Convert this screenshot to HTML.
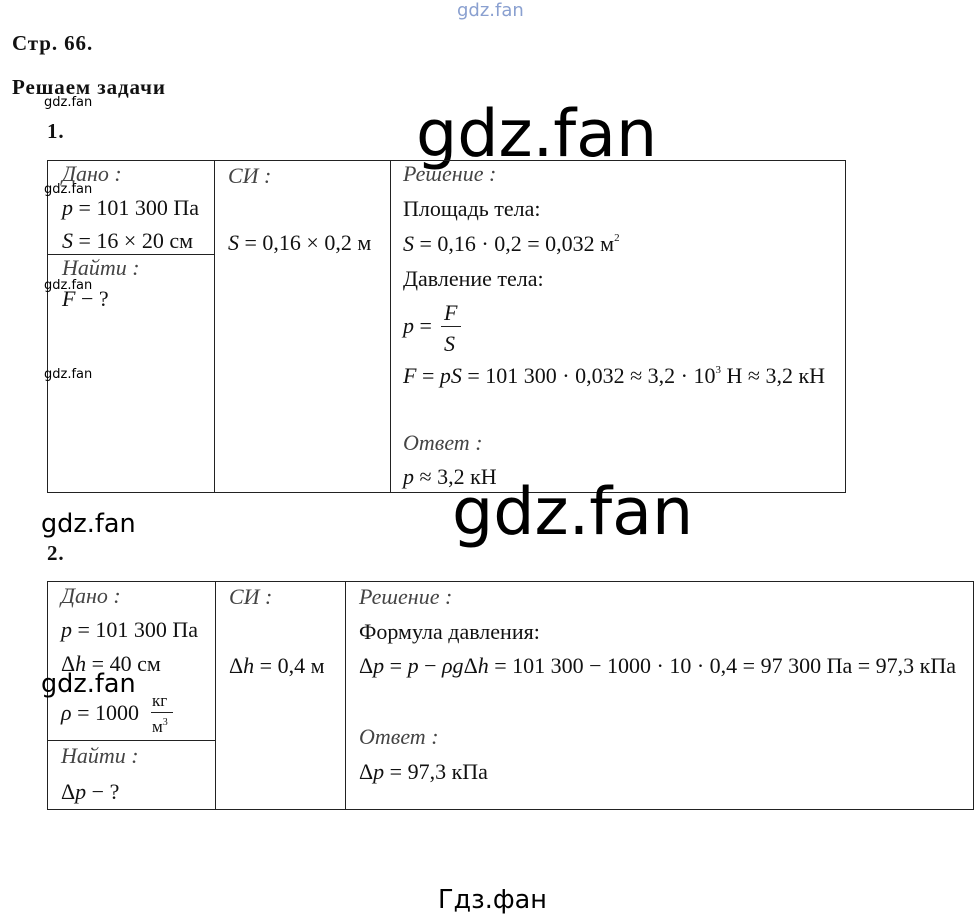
<!DOCTYPE html>
<html><head><meta charset="utf-8"><style>
body{margin:0;width:979px;height:921px;background:#fff;position:relative;overflow:hidden;font-family:"Liberation Serif",serif;color:#111}
.t{position:absolute;white-space:nowrap;font-size:22px;line-height:1}
.i{font-style:italic}
.b{font-weight:bold;font-size:21px;letter-spacing:0.9px}
.l{position:absolute;background:#222}
.w{position:absolute;font-family:"DejaVu Sans","Liberation Sans",sans-serif;white-space:nowrap;color:#000;line-height:1}
sup{font-size:11px;vertical-align:10px}
</style></head><body>
<div class="w" style="left:457px;top:2px;font-size:18px;color:#8aa0d0">gdz.fan</div>
<div class="t b" style="left:12px;top:33px">Стр. 66.</div>
<div class="t b" style="left:12px;top:77px">Решаем задачи</div>
<div class="w" style="left:44px;top:96px;font-size:13px">gdz.fan</div>
<div class="t b" style="left:47px;top:121px">1.</div>
<div class="w" style="left:416px;top:102px;font-size:65px">gdz.fan</div>

<!-- table 1 -->
<div class="l" style="left:47px;top:160px;width:799px;height:1px"></div>
<div class="l" style="left:47px;top:492px;width:799px;height:1px"></div>
<div class="l" style="left:47px;top:160px;width:1px;height:333px"></div>
<div class="l" style="left:845px;top:160px;width:1px;height:333px"></div>
<div class="l" style="left:214px;top:160px;width:1px;height:333px"></div>
<div class="l" style="left:390px;top:160px;width:1px;height:333px"></div>
<div class="l" style="left:47px;top:254px;width:167px;height:1px"></div>
<div class="t i" style="left:62px;top:163px;color:#444">Дано :</div>
<div class="t" style="left:62px;top:197px"><i>p</i> = 101 300 Па</div>
<div class="t" style="left:62px;top:230px"><i>S</i> = 16 × 20 см</div>
<div class="t i" style="left:62px;top:257px;color:#444">Найти :</div>
<div class="t" style="left:62px;top:288px"><i>F</i> − ?</div>
<div class="w" style="left:44px;top:183px;font-size:13px">gdz.fan</div>
<div class="w" style="left:44px;top:279px;font-size:13px">gdz.fan</div>
<div class="w" style="left:44px;top:368px;font-size:13px">gdz.fan</div>
<div class="t i" style="left:228px;top:165px;color:#444">СИ :</div>
<div class="t" style="left:228px;top:232px"><i>S</i> = 0,16 × 0,2 м</div>
<div class="t i" style="left:403px;top:163px;color:#444">Решение :</div>
<div class="t" style="left:403px;top:198px">Площадь тела:</div>
<div class="t" style="left:403px;top:233px"><i>S</i> = 0,16 · 0,2 = 0,032 м<sup>2</sup></div>
<div class="t" style="left:403px;top:268px">Давление тела:</div>
<div class="t" style="left:403px;top:315px"><i>p</i> =</div>
<div class="t i" style="left:444px;top:302px">F</div>
<div class="l" style="left:441px;top:326px;width:20px;height:1px"></div>
<div class="t i" style="left:444px;top:333px">S</div>
<div class="t" style="left:403px;top:365px"><i>F</i> = <i>pS</i> = 101 300 · 0,032 ≈ 3,2 · 10<sup>3</sup> Н ≈ 3,2 кН</div>
<div class="t i" style="left:403px;top:432px;color:#444">Ответ :</div>
<div class="t" style="left:403px;top:466px"><i>p</i> ≈ 3,2 кН</div>
<div class="w" style="left:452px;top:480px;font-size:65px">gdz.fan</div>

<div class="w" style="left:41px;top:512px;font-size:25.5px">gdz.fan</div>
<div class="t b" style="left:47px;top:543px">2.</div>

<!-- table 2 -->
<div class="l" style="left:47px;top:581px;width:927px;height:1px"></div>
<div class="l" style="left:47px;top:809px;width:927px;height:1px"></div>
<div class="l" style="left:47px;top:581px;width:1px;height:229px"></div>
<div class="l" style="left:973px;top:581px;width:1px;height:229px"></div>
<div class="l" style="left:215px;top:581px;width:1px;height:229px"></div>
<div class="l" style="left:345px;top:581px;width:1px;height:229px"></div>
<div class="l" style="left:47px;top:740px;width:168px;height:1px"></div>
<div class="t i" style="left:61px;top:585px;color:#444">Дано :</div>
<div class="t" style="left:61px;top:619px"><i>p</i> = 101 300 Па</div>
<div class="t" style="left:61px;top:653px">Δ<i>h</i> = 40 см</div>
<div class="w" style="left:41px;top:672px;font-size:25.5px">gdz.fan</div>
<div class="t" style="left:61px;top:702px"><i>ρ</i> = 1000</div>
<div class="t" style="left:152px;top:692px;font-size:17px">кг</div>
<div class="l" style="left:151px;top:712px;width:22px;height:1px"></div>
<div class="t" style="left:152px;top:718px;font-size:17px">м<sup style="font-size:10px;vertical-align:7px">3</sup></div>
<div class="t i" style="left:61px;top:745px;color:#444">Найти :</div>
<div class="t" style="left:61px;top:781px">Δ<i>p</i> − ?</div>
<div class="t i" style="left:229px;top:586px;color:#444">СИ :</div>
<div class="t" style="left:229px;top:655px">Δ<i>h</i> = 0,4 м</div>
<div class="t i" style="left:359px;top:586px;color:#444">Решение :</div>
<div class="t" style="left:359px;top:621px">Формула давления:</div>
<div class="t" style="left:359px;top:655px">Δ<i>p</i> = <i>p</i> − <i>ρg</i>Δ<i>h</i> = 101 300 − 1000 · 10 · 0,4 = 97 300 Па = 97,3 кПа</div>
<div class="t i" style="left:359px;top:726px;color:#444">Ответ :</div>
<div class="t" style="left:359px;top:761px">Δ<i>p</i> = 97,3 кПа</div>

<div class="w" style="left:438px;top:888px;font-size:25.5px">Гдз.фан</div>
</body></html>
